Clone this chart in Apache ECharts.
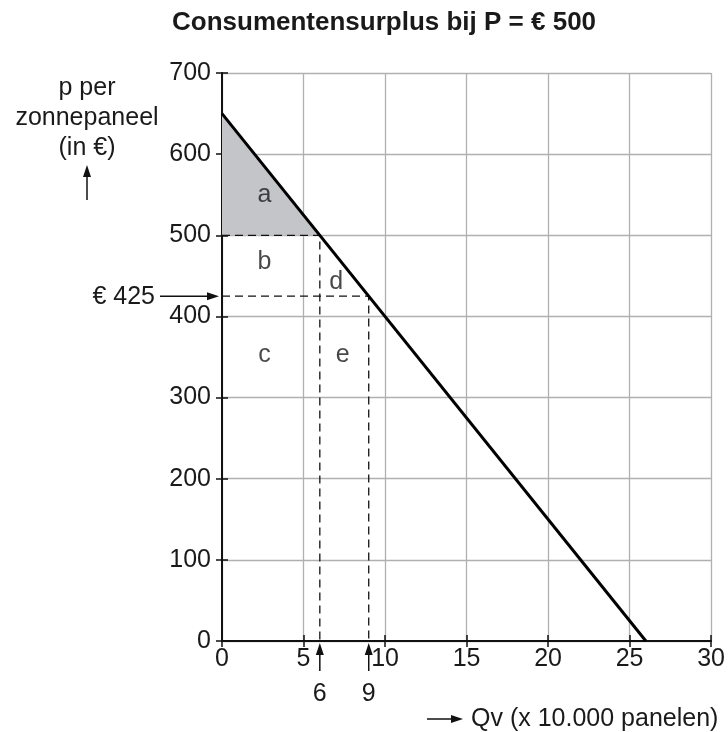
<!DOCTYPE html>
<html>
<head>
<meta charset="utf-8">
<script src="https://cdn.jsdelivr.net/npm/echarts@6/dist/echarts.min.js"></script>
<style>
html, body { margin: 0; padding: 0; background: #fff; }
#main { width: 728px; height: 732px; }
</style>
</head>
<body>
<div id="main"></div>
<script>
// gegevens
var qTicks = [0, 5, 10, 15, 20, 25, 30];
var pTicks = [0, 100, 200, 300, 400, 500, 600, 700];
var demandQ = [0, 26];
var demandP = [650, 0];
var surplusQ = [0, 6, 0];
var surplusP = [650, 500, 500];
var refQ = [6, 9];
var refP = [500, 425];
var areaNames = ['a', 'b', 'c', 'd', 'e'];
var areaQ = [2.6, 2.6, 2.6, 7.0, 7.4];
var areaP = [550, 467, 352, 442, 352];

var FONT = '"Liberation Sans", Arial, sans-serif';
var FS = 25;
var INK = '#1a1a1a';
var myChart = echarts.init(document.getElementById('main'));

function pairs(xs, ys) {
    return xs.map(function (x, i) { return [x, ys[i]]; });
}

var axisX = {
    type: 'value',
    min: qTicks[0],
    max: qTicks[qTicks.length - 1],
    interval: qTicks[1] - qTicks[0]
};
var axisY = {
    type: 'value',
    min: pTicks[0],
    max: pTicks[pTicks.length - 1],
    interval: pTicks[1] - pTicks[0]
};

option = {
    animation: false,
    title: {
        text: 'Consumentensurplus bij P = € 500',
        left: 167,
        top: 5,
        textStyle: { fontFamily: FONT, fontSize: 26, fontWeight: 'bold', color: INK }
    },
    grid: { left: 222, top: 73, right: 16, bottom: 91 },
    xAxis: [
        Object.assign({}, axisX, {
            axisLine: { lineStyle: { color: '#111', width: 2 } },
            axisTick: { show: true, length: 6, lineStyle: { color: '#111', width: 1.5 } },
            axisLabel: { fontFamily: FONT, fontSize: FS, color: INK, margin: 6 },
            splitLine: { show: true, lineStyle: { color: '#b0b0b0', width: 1.3 } }
        }),
        Object.assign({}, axisX, {
            position: 'bottom',
            axisLine: { show: false },
            axisTick: { show: true, inside: true, length: 6, lineStyle: { color: '#111', width: 1.5 } },
            axisLabel: { show: false },
            splitLine: { show: false }
        })
    ],
    yAxis: [
        Object.assign({}, axisY, {
            axisLine: { show: true, lineStyle: { color: '#111', width: 2 } },
            axisTick: { show: true, length: 6, lineStyle: { color: '#111', width: 1.5 } },
            axisLabel: { fontFamily: FONT, fontSize: FS, color: INK, margin: 11 },
            splitLine: { show: true, lineStyle: { color: '#b0b0b0', width: 1.3 } }
        }),
        Object.assign({}, axisY, {
            position: 'left',
            axisLine: { show: false },
            axisTick: { show: true, inside: true, length: 6, lineStyle: { color: '#111', width: 1.5 } },
            axisLabel: { show: false },
            splitLine: { show: false }
        })
    ],
    series: [
        {
            // consumentensurplus (grijs vlak)
            type: 'custom',
            renderItem: function (params, api) {
                var pts = pairs(surplusQ, surplusP).map(function (d) { return api.coord(d); });
                return { type: 'polygon', shape: { points: pts }, style: { fill: '#c4c5c9' } };
            },
            data: [0],
            z: 1
        },
        {
            type: 'line',
            data: [[0, refP[0]], [refQ[0], refP[0]], [refQ[0], 0]],
            symbol: 'none',
            lineStyle: { color: '#111', width: 1.3, type: [8, 5] },
            z: 2
        },
        {
            type: 'line',
            data: [[0, refP[1]], [refQ[1], refP[1]], [refQ[1], 0]],
            symbol: 'none',
            lineStyle: { color: '#111', width: 1.3, type: [8, 5] },
            z: 2
        },
        {
            // vraaglijn
            type: 'line',
            data: pairs(demandQ, demandP),
            symbol: 'none',
            lineStyle: { color: '#000', width: 3 },
            z: 3
        },
        {
            type: 'scatter',
            symbolSize: 0,
            data: areaNames.map(function (n, i) { return { name: n, value: [areaQ[i], areaP[i]] }; }),
            label: {
                show: true,
                position: 'inside',
                formatter: '{b}',
                fontFamily: FONT,
                fontSize: FS,
                color: INK
            },
            z: 4
        }
    ]
};

myChart.setOption(option);

// pijlen en losse teksten
function arrowHead(x, y, dir) {
    // dir: 'up' of 'right'
    var pts = dir === 'up'
        ? [[x, y], [x - 4, y + 12], [x + 4, y + 12]]
        : [[x, y], [x - 12, y - 4], [x - 12, y + 4]];
    return { type: 'polygon', shape: { points: pts }, style: { fill: '#111' } };
}
function seg(x1, y1, x2, y2) {
    return { type: 'line', shape: { x1: x1, y1: y1, x2: x2, y2: y2 }, style: { stroke: '#111', lineWidth: 1.5 } };
}
function txt(s, x, y, align) {
    return {
        type: 'text', x: x, y: y,
        style: { text: s, font: FS + 'px ' + FONT, fill: INK, align: align || 'center', verticalAlign: 'middle' }
    };
}

var y425 = myChart.convertToPixel({ yAxisIndex: 0 }, refP[1]);
var yZero = myChart.convertToPixel({ yAxisIndex: 0 }, 0);
var g = [];

// y-as titel
g.push({
    type: 'text', x: 87, y: 73,
    style: {
        text: 'p per\nzonnepaneel\n(in €)', font: FS + 'px ' + FONT, fill: INK,
        align: 'center', verticalAlign: 'top', lineHeight: 30
    }
});
g.push(seg(87, 200, 87, 172));
g.push(arrowHead(87, 165, 'up'));

// € 425
g.push(txt('€ 425', 155, y425 + 1, 'right'));
g.push(seg(160, y425, 212, y425));
g.push(arrowHead(219, y425, 'right'));

// Q = 6 en Q = 9
refQ.forEach(function (q) {
    var x = myChart.convertToPixel({ xAxisIndex: 0 }, q);
    g.push(seg(x, yZero + 30, x, yZero + 10));
    g.push(arrowHead(x, yZero + 2, 'up'));
    g.push(txt(String(q), x, yZero + 53));
});

// x-as titel
g.push(seg(427, 719, 455, 719));
g.push(arrowHead(463, 719, 'right'));
g.push(txt('Qv (x 10.000 panelen)', 471, 719, 'left'));

myChart.setOption({ graphic: g });
</script>
</body>
</html>
